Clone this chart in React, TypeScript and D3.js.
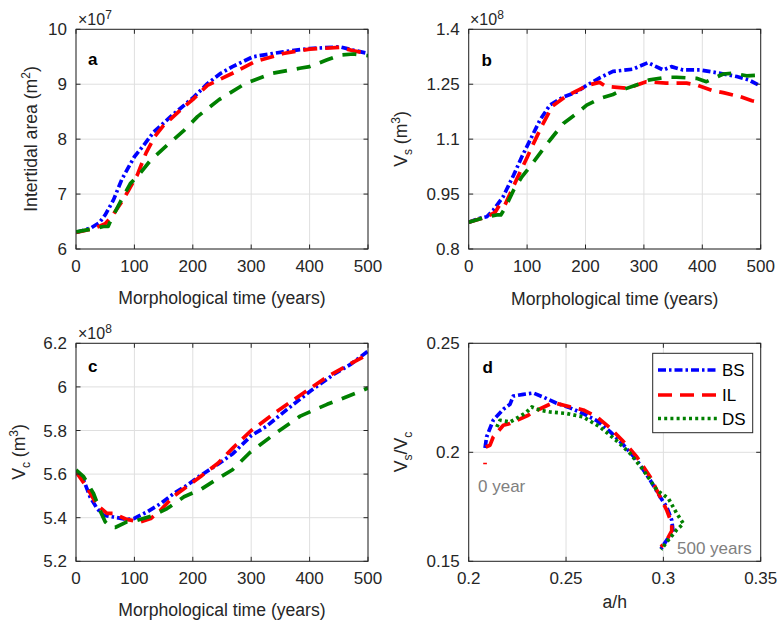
import React from "react";
import * as d3 from "d3";

// ---------- Panel a: intertidal area (x1e7 m2) ----------
const tBS_a = [0, 25, 40, 50, 64, 79, 100, 116, 133, 162, 202, 225, 248, 268, 303, 355, 400, 452, 475, 500];
const BS_a = [6.3, 6.38, 6.48, 6.62, 6.89, 7.28, 7.68, 7.89, 8.13, 8.41, 8.77, 9.01, 9.2, 9.32, 9.5, 9.59, 9.65, 9.68, 9.62, 9.56];
const tIL_a = [0, 30, 50, 62, 82, 90, 105, 120, 135, 150, 185, 202, 225, 243, 268, 306, 355, 400, 452, 475, 500];
const IL_a = [6.3, 6.37, 6.46, 6.6, 6.92, 7.07, 7.35, 7.75, 8.05, 8.25, 8.59, 8.74, 8.98, 9.07, 9.2, 9.41, 9.56, 9.64, 9.67, 9.61, 9.56];
const tDS_a = [0, 30, 47, 55, 60, 76, 93, 110, 128, 156, 185, 208, 245, 291, 337, 383, 400, 429, 452, 475, 500];
const DS_a = [6.31, 6.37, 6.41, 6.41, 6.53, 6.86, 7.19, 7.38, 7.62, 7.89, 8.16, 8.41, 8.72, 9.02, 9.2, 9.29, 9.32, 9.44, 9.53, 9.55, 9.52];

// ---------- Panel b: Vs (x1e8 m3) ----------
const tBS_b = [0, 19, 31, 42, 59, 77, 91, 105, 122, 139, 162, 185, 202, 225, 247, 281, 307, 333, 347, 367, 396, 430, 459, 479, 500];
const BS_b = [0.873, 0.884, 0.888, 0.906, 0.943, 1.002, 1.052, 1.097, 1.152, 1.193, 1.215, 1.229, 1.247, 1.268, 1.285, 1.291, 1.309, 1.289, 1.298, 1.289, 1.289, 1.28, 1.271, 1.262, 1.245];
const tIL_b = [0, 31, 45, 55, 62, 72, 85, 100, 110, 125, 143, 165, 185, 205, 224, 235, 270, 281, 304, 338, 373, 390, 419, 436, 465, 485, 500];
const IL_b = [0.873, 0.888, 0.9, 0.925, 0.92, 0.955, 1.0, 1.05, 1.085, 1.135, 1.19, 1.215, 1.232, 1.248, 1.255, 1.244, 1.239, 1.244, 1.257, 1.253, 1.253, 1.248, 1.232, 1.227, 1.216, 1.205, 1.2];
const tDS_b = [0, 31, 48, 55, 62, 77, 91, 105, 122, 139, 162, 185, 202, 225, 247, 264, 287, 310, 338, 356, 390, 407, 436, 453, 476, 500];
const DS_b = [0.873, 0.888, 0.893, 0.893, 0.911, 0.961, 0.997, 1.025, 1.061, 1.097, 1.143, 1.17, 1.193, 1.211, 1.222, 1.235, 1.248, 1.262, 1.269, 1.269, 1.266, 1.257, 1.278, 1.28, 1.273, 1.275];

// ---------- Panel c: Vc (x1e8 m3) ----------
const tBS_c = [0, 13, 24, 36, 47, 64, 87, 99, 122, 145, 168, 191, 214, 243, 269, 300, 326, 361, 401, 441, 470, 500];
const BS_c = [5.611, 5.573, 5.496, 5.442, 5.411, 5.403, 5.392, 5.396, 5.427, 5.465, 5.512, 5.55, 5.595, 5.645, 5.695, 5.776, 5.819, 5.896, 5.98, 6.057, 6.103, 6.164];
const tIL_c = [0, 18, 36, 53, 64, 87, 110, 128, 145, 168, 191, 214, 243, 268, 300, 343, 384, 430, 476, 500];
const IL_c = [5.611, 5.542, 5.458, 5.42, 5.42, 5.392, 5.381, 5.396, 5.435, 5.5, 5.545, 5.59, 5.65, 5.718, 5.8, 5.885, 5.962, 6.046, 6.115, 6.15];
const tDS_c = [0, 13, 30, 41, 50, 59, 67, 87, 105, 133, 156, 185, 214, 243, 268, 297, 343, 384, 430, 482, 500];
const DS_c = [5.619, 5.588, 5.511, 5.434, 5.381, 5.358, 5.355, 5.381, 5.388, 5.411, 5.442, 5.496, 5.53, 5.58, 5.62, 5.697, 5.79, 5.866, 5.92, 5.974, 5.995];

// ---------- Panel d: Vs/Vc vs a/h ----------
const ahBS_d = [0.2084, 0.2092, 0.2105, 0.2126, 0.2178, 0.2212, 0.2229, 0.2281, 0.2332, 0.2384, 0.2452, 0.252, 0.2589, 0.2658, 0.2726, 0.2795, 0.2863, 0.2932, 0.2983, 0.3017, 0.3043, 0.3051, 0.3017, 0.2988];
const BS_d = [0.202, 0.207, 0.21, 0.2147, 0.2198, 0.222, 0.2258, 0.2266, 0.2272, 0.2253, 0.2225, 0.2204, 0.2177, 0.2145, 0.2095, 0.2034, 0.1965, 0.1873, 0.1796, 0.175, 0.1689, 0.1628, 0.1597, 0.1558];
const ahIL0_d = [0.2084, 0.2084];
const IL0_d = [0.1945, 0.1952];
const ahIL_d = [0.2088, 0.2109, 0.2126, 0.2178, 0.2212, 0.2306, 0.2332, 0.2435, 0.2452, 0.252, 0.2589, 0.2658, 0.2726, 0.2795, 0.2863, 0.2932, 0.2983, 0.3017, 0.3043, 0.3043, 0.3017, 0.2988];
const IL_d = [0.2024, 0.2032, 0.207, 0.2124, 0.2132, 0.217, 0.2185, 0.2228, 0.2224, 0.2209, 0.2194, 0.2163, 0.2112, 0.2049, 0.198, 0.1888, 0.1796, 0.1735, 0.1674, 0.164, 0.1597, 0.1566];
const ahDS_d = [0.2144, 0.2161, 0.2212, 0.2264, 0.2298, 0.2324, 0.2366, 0.2418, 0.2504, 0.2589, 0.2675, 0.2761, 0.2829, 0.2897, 0.2966, 0.3026, 0.3069, 0.3103, 0.3068, 0.3026, 0.2988];
const DS_d = [0.2116, 0.2147, 0.2139, 0.2165, 0.2185, 0.2208, 0.2193, 0.2185, 0.2178, 0.2162, 0.2116, 0.2052, 0.1995, 0.1919, 0.1827, 0.1788, 0.1719, 0.1673, 0.1644, 0.1598, 0.1554];

// ---------- Ticks ----------
const timeTicks = [0, 100, 200, 300, 400, 500];
const yTicks_a = [6, 7, 8, 9, 10];
const yTicks_b = [0.8, 0.95, 1.1, 1.25, 1.4];
const yTicks_c = [5.2, 5.4, 5.6, 5.8, 6, 6.2];
const xTicks_d = [0.2, 0.25, 0.3, 0.35];
const yTicks_d = [0.15, 0.2, 0.25];

const seriesNames = ["BS", "IL", "DS"];
const seriesColors = ["#0000ff", "#ff0000", "#008000"];

const FONT = "'Liberation Sans', Arial, Helvetica, sans-serif";
const AX = "#262626";
const FS = 17;
const FT = 17.6;
const LW = 3.7;
const DASH_BS = "8,3,2.5,3";
const DASH_IL = "14,8";
const DASH_DS = "14,10";
const DOT_DS = "3,3.2";

type Line = { xs: number[]; ys: number[]; color: string; dash: string };

type PanelProps = {
  id: string;
  x0: number; y0: number; w: number; h: number;
  xDomain: [number, number]; yDomain: [number, number];
  xTicks: number[]; yTicks: number[];
  lines: Line[];
  letter: string; letterX: number; letterY: number;
};

const fmt = (v: number) => String(+v.toFixed(4));

function Panel(p: PanelProps) {
  const xs = d3.scaleLinear().domain(p.xDomain).range([p.x0, p.x0 + p.w]);
  const ys = d3.scaleLinear().domain(p.yDomain).range([p.y0 + p.h, p.y0]);
  const TL = 4.5;
  const gen = (l: Line) =>
    d3.line<number>().x((_, i) => xs(l.xs[i])).y((d) => ys(d))(l.ys) || "";
  return (
    <g>
      <defs>
        <clipPath id={p.id}>
          <rect x={p.x0} y={p.y0} width={p.w} height={p.h} />
        </clipPath>
      </defs>
      <rect x={p.x0} y={p.y0} width={p.w} height={p.h} fill="#fff" />
      {p.xTicks.map((t) => (
        <line key={"gx" + t} x1={xs(t)} x2={xs(t)} y1={p.y0} y2={p.y0 + p.h} stroke="#dfdfdf" strokeWidth={1} />
      ))}
      {p.yTicks.map((t) => (
        <line key={"gy" + t} x1={p.x0} x2={p.x0 + p.w} y1={ys(t)} y2={ys(t)} stroke="#dfdfdf" strokeWidth={1} />
      ))}
      <g clipPath={`url(#${p.id})`}>
        {p.lines.map((l, i) => (
          <path key={i} d={gen(l)} fill="none" stroke={l.color} strokeWidth={LW} strokeDasharray={l.dash} strokeLinecap="butt" strokeLinejoin="round" />
        ))}
      </g>
      {p.xTicks.map((t) => (
        <g key={"tx" + t}>
          <line x1={xs(t)} x2={xs(t)} y1={p.y0 + p.h} y2={p.y0 + p.h - TL} stroke={AX} />
          <line x1={xs(t)} x2={xs(t)} y1={p.y0} y2={p.y0 + TL} stroke={AX} />
          <text x={xs(t)} y={p.y0 + p.h + 23} textAnchor="middle" fontSize={FS} fill={AX}>{fmt(t)}</text>
        </g>
      ))}
      {p.yTicks.map((t) => (
        <g key={"ty" + t}>
          <line x1={p.x0} x2={p.x0 + TL} y1={ys(t)} y2={ys(t)} stroke={AX} />
          <line x1={p.x0 + p.w} x2={p.x0 + p.w - TL} y1={ys(t)} y2={ys(t)} stroke={AX} />
          <text x={p.x0 - 9} y={ys(t)} dy="0.36em" textAnchor="end" fontSize={FS} fill={AX}>{fmt(t)}</text>
        </g>
      ))}
      <rect x={p.x0} y={p.y0} width={p.w} height={p.h} fill="none" stroke={AX} strokeWidth={1} />
      <text x={p.letterX} y={p.letterY} fontSize={FS} fontWeight="bold" fill="#000">{p.letter}</text>
    </g>
  );
}

function Exp({ x, y, e }: { x: number; y: number; e: string }) {
  return (
    <text x={x} y={y} fontSize={16} fill={AX}>
      ×10<tspan fontSize={12} dy={-6}>{e}</tspan>
    </text>
  );
}

export default function App() {
  const A = { x0: 76, w: 292 };
  const B = { x0: 468.7, w: 292 };
  const top1 = 29.3, h1 = 219.7;
  const top2 = 343.3, h2 = 218;
  const mk = (xs: number[], ys: number[], i: number, dash: string): Line => ({ xs, ys, color: seriesColors[i], dash });
  const legendRows = [370, 395, 418.5];
  const legendDash = [DASH_BS, DASH_IL, DOT_DS];
  return (
    <svg width={779} height={622} style={{ position: "absolute", left: 0, top: 0, background: "#fff" }} fontFamily={FONT}>
      <rect x={0} y={0} width={779} height={622} fill="#fff" />
      <Panel id="ca" x0={A.x0} y0={top1} w={A.w} h={h1} xDomain={[0, 500]} yDomain={[6, 10]}
        xTicks={timeTicks} yTicks={yTicks_a} letter="a" letterX={88} letterY={65}
        lines={[mk(tBS_a, BS_a, 0, DASH_BS), mk(tIL_a, IL_a, 1, DASH_IL), mk(tDS_a, DS_a, 2, DASH_DS)]} />
      <Panel id="cb" x0={B.x0} y0={top1} w={B.w} h={h1} xDomain={[0, 500]} yDomain={[0.8, 1.4]}
        xTicks={timeTicks} yTicks={yTicks_b} letter="b" letterX={481.5} letterY={66}
        lines={[mk(tBS_b, BS_b, 0, DASH_BS), mk(tIL_b, IL_b, 1, DASH_IL), mk(tDS_b, DS_b, 2, DASH_DS)]} />
      <Panel id="cc" x0={A.x0} y0={top2} w={A.w} h={h2} xDomain={[0, 500]} yDomain={[5.2, 6.2]}
        xTicks={timeTicks} yTicks={yTicks_c} letter="c" letterX={88} letterY={372}
        lines={[mk(tBS_c, BS_c, 0, DASH_BS), mk(tIL_c, IL_c, 1, DASH_IL), mk(tDS_c, DS_c, 2, DASH_DS)]} />
      <Panel id="cd" x0={B.x0} y0={top2} w={B.w} h={h2} xDomain={[0.2, 0.35]} yDomain={[0.15, 0.25]}
        xTicks={xTicks_d} yTicks={yTicks_d} letter="d" letterX={482.5} letterY={373}
        lines={[mk(ahBS_d, BS_d, 0, DASH_BS), mk(ahIL0_d, IL0_d, 1, "none"), mk(ahIL_d, IL_d, 1, DASH_IL), mk(ahDS_d, DS_d, 2, DOT_DS)]} />

      {/* exponents */}
      <Exp x={78} y={25} e="7" />
      <Exp x={470} y={25} e="8" />
      <Exp x={78} y={339} e="8" />

      {/* x labels */}
      <text x={222} y={304} textAnchor="middle" fontSize={FT} fill={AX}>Morphological time (years)</text>
      <text x={614.7} y={305} textAnchor="middle" fontSize={FT} fill={AX}>Morphological time (years)</text>
      <text x={222} y={616} textAnchor="middle" fontSize={FT} fill={AX}>Morphological time (years)</text>
      <text x={614.7} y={608} textAnchor="middle" fontSize={FT} fill={AX}>a/h</text>

      {/* y labels */}
      <text transform="translate(37,139) rotate(-90)" textAnchor="middle" fontSize={FT} fill={AX}>
        Intertidal area (m<tspan fontSize={12} dy={-7}>2</tspan><tspan dy={7}>)</tspan>
      </text>
      <text transform="translate(407,139) rotate(-90)" textAnchor="middle" fontSize={FT} fill={AX}>
        V<tspan fontSize={12} dy={5}>s</tspan><tspan dy={-5}> (m</tspan><tspan fontSize={12} dy={-7}>3</tspan><tspan dy={7}>)</tspan>
      </text>
      <text transform="translate(25,452) rotate(-90)" textAnchor="middle" fontSize={FT} fill={AX}>
        V<tspan fontSize={12} dy={5}>c</tspan><tspan dy={-5}> (m</tspan><tspan fontSize={12} dy={-7}>3</tspan><tspan dy={7}>)</tspan>
      </text>
      <text transform="translate(407,452) rotate(-90)" textAnchor="middle" fontSize={FT} fill={AX}>
        V<tspan fontSize={12} dy={5}>s</tspan><tspan dy={-5}>/V</tspan><tspan fontSize={12} dy={5}>c</tspan>
      </text>

      {/* annotations */}
      <text x={478} y={492} fontSize={FS} fill="#808080">0 year</text>
      <text x={677} y={554} fontSize={FS} fill="#808080">500 years</text>

      {/* legend */}
      <rect x={652.7} y={353.3} width={100} height={79.4} fill="#fff" stroke={AX} strokeWidth={1} />
      {seriesNames.map((n, i) => (
        <g key={n}>
          <line x1={658} x2={718} y1={legendRows[i]} y2={legendRows[i]} stroke={seriesColors[i]} strokeWidth={LW} strokeDasharray={legendDash[i]} />
          <text x={722} y={legendRows[i]} dy="0.36em" fontSize={FS} fill="#000">{n}</text>
        </g>
      ))}
    </svg>
  );
}
